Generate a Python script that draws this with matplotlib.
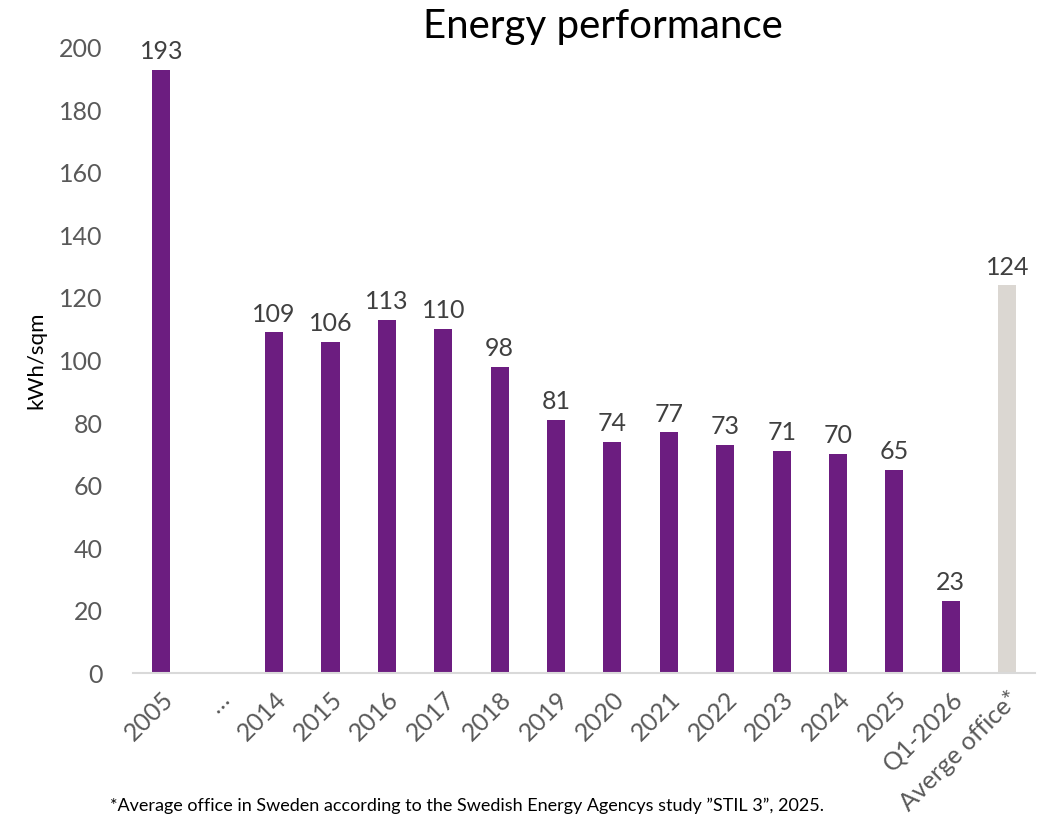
import numpy as np
import matplotlib.pyplot as plt

plt.rcParams['font.family'] = ['Lato', 'DejaVu Sans']

categories = ["2005", "…", "2014", "2015", "2016", "2017", "2018", "2019", "2020",
              "2021", "2022", "2023", "2024", "2025", "Q1-2026", "Averge office*"]
values = [193, None, 109, 106, 113, 110, 98, 81, 74, 77, 73, 71, 70, 65, 23, 124]
bar_colors = ["#6c1d80"] * 15 + ["#dbd7d2"]

fig = plt.figure(figsize=(10.48, 8.25), dpi=100)
ax = fig.add_axes([0.127, 0.184, 0.861, 0.758])

x = np.arange(len(categories))
for i, (v, c) in enumerate(zip(values, bar_colors)):
    if v is None:
        continue
    ax.bar(i, v, width=0.32, color=c)
    ax.text(i, v + 2.2, str(v), ha="center", va="bottom", fontsize=18,
            color="#404040", clip_on=False)

ax.set_xlim(-0.5, len(categories) - 0.5)
ax.set_ylim(0, 200)
ax.set_yticks(np.arange(0, 201, 20))
ax.set_xticks(x)
ax.set_xticklabels(categories, rotation=45, ha="right", rotation_mode="anchor")
ax.tick_params(axis="both", length=0, labelsize=18, labelcolor="#595959")
ax.tick_params(axis="x", pad=10)
ax.tick_params(axis="y", pad=22)

for s in ["top", "right", "left"]:
    ax.spines[s].set_visible(False)
ax.spines["bottom"].set_color("#d9d9d9")
ax.spines["bottom"].set_linewidth(1.5)

ax.set_ylabel("kWh/sqm", fontsize=16, color="black", labelpad=9)
fig.text(0.575, 0.968, "Energy performance", ha="center", va="center", fontsize=29)
fig.text(0.105, 0.023, "*Average office in Sweden according to the Swedish Energy Agencys study \u201dSTIL 3\u201d, 2025.",
         fontsize=13, ha="left", va="center")

fig.savefig("out.png", dpi=100)
